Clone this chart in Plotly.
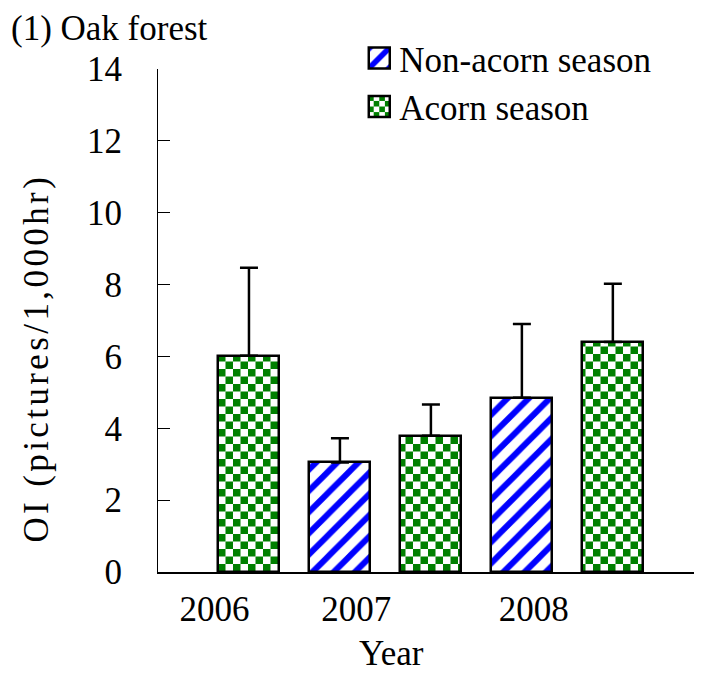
import plotly.graph_objects as go

# ── Data ─────────────────────────────────────────────────────────────────────
YEARS = ["2006", "2007", "2008"]

# slot index of each bar along the x axis (2006 has no non-acorn bar)
NON_ACORN_SLOT = [2, 4]
NON_ACORN_OI = [3.05, 4.85]
NON_ACORN_SE = [0.67, 2.05]

ACORN_SLOT = [1, 3, 5]
ACORN_OI = [6.02, 3.79, 6.40]
ACORN_SE = [2.45, 0.87, 1.62]

# ── Style ────────────────────────────────────────────────────────────────────
BLUE = "#0000FF"
GREEN = "#008000"
BLACK = "#000000"
FONT = "Liberation Serif, Times New Roman, serif"
YEAR_TICKS = [0.62, 2.18, 4.13]

# page body has an 8px margin, so the figure is drawn 8px smaller
W, H = 694, 665

fig = go.Figure()

fig.add_trace(go.Bar(
    x=NON_ACORN_SLOT,
    y=NON_ACORN_OI,
    name="Non-acorn season",
    width=0.67,
    marker=dict(
        color="white",
        line=dict(color=BLACK, width=2.5),
        pattern=dict(shape="/", fgcolor=BLUE, bgcolor="white",
                     fgopacity=1, size=15, solidity=0.4),
    ),
    error_y=dict(type="data", array=NON_ACORN_SE, symmetric=False,
                 arrayminus=[0] * len(NON_ACORN_SE),
                 color=BLACK, thickness=2.5, width=9),
))

fig.add_trace(go.Bar(
    x=ACORN_SLOT,
    y=ACORN_OI,
    name="Acorn season",
    width=0.67,
    marker=dict(
        color="white",
        line=dict(color=BLACK, width=2.5),
        # dot pattern is swapped for a checkerboard tile after render
        pattern=dict(shape=".", fgcolor=GREEN, bgcolor="white",
                     fgopacity=1, size=15, solidity=0.5),
    ),
    error_y=dict(type="data", array=ACORN_SE, symmetric=False,
                 arrayminus=[0] * len(ACORN_SE),
                 color=BLACK, thickness=2.5, width=9),
))

fig.update_layout(
    width=W,
    height=H,
    margin=dict(l=150, r=0, t=61, b=101),
    paper_bgcolor="white",
    plot_bgcolor="white",
    font=dict(family=FONT, size=35, color=BLACK),
    showlegend=True,
    legend=dict(x=0.37, y=1.08, xanchor="left", yanchor="top",
                bgcolor="rgba(0,0,0,0)", font=dict(size=35)),
    bargap=0,
)

fig.update_xaxes(
    range=[0, 5.98],
    tickvals=YEAR_TICKS,
    ticktext=YEARS,
    ticks="",
    showgrid=False,
    zeroline=False,
    showline=True,
    linecolor=BLACK,
    linewidth=2,
    ticklabelstandoff=5,
)
fig.update_yaxes(
    range=[0, 14],
    dtick=2,
    ticks="inside",
    ticklen=12,
    tickwidth=1,
    tickcolor=BLACK,
    showgrid=False,
    zeroline=False,
    showline=True,
    linecolor=BLACK,
    linewidth=1,
    ticklabelstandoff=28,
)

fig.add_annotation(text='<span style="letter-spacing:3.4px">OI (pictures/1,000hr)</span>',
                   textangle=-90,
                   xref="paper", yref="paper", x=-0.224, y=0.4245,
                   xanchor="center", yanchor="middle", showarrow=False,
                   font=dict(size=35))
fig.add_annotation(text="Year", xref="paper", yref="paper",
                   x=(391 - 158) / 544, y=(572 - 653) / 503,
                   xanchor="center", yanchor="middle", showarrow=False,
                   font=dict(size=35))
fig.add_annotation(text="(1) Oak forest", xref="paper", yref="paper",
                   x=(10 - 158) / 544, y=1 + 61 / 503,
                   xanchor="left", yanchor="top", borderpad=0,
                   showarrow=False, font=dict(size=35))

# checkerboard tiles + bigger legend swatches
POST = """
var gd = document.getElementById('{plot_id}');
var ns = 'http://www.w3.org/2000/svg';
gd.querySelectorAll('pattern').forEach(function(p){
  if(!p.querySelector('circle')) return;
  var s = (p.id.indexOf('legend') >= 0) ? 8 : 15, h = s / 2;
  while(p.firstChild) p.removeChild(p.firstChild);
  p.setAttribute('width', s);
  p.setAttribute('height', s);
  [[0, 0, s, s, 'white'], [0, 0, h, h, '%s'], [h, h, h, h, '%s']].forEach(function(r){
    var e = document.createElementNS(ns, 'rect');
    e.setAttribute('x', r[0]); e.setAttribute('y', r[1]);
    e.setAttribute('width', r[2]); e.setAttribute('height', r[3]);
    e.setAttribute('fill', r[4]);
    p.appendChild(e);
  });
});
gd.querySelectorAll('.legend .legendpoints path').forEach(function(p){
  var t = p.getAttribute('transform') || '';
  p.setAttribute('transform', t + ' scale(1.75)');
  p.setAttribute('vector-effect', 'non-scaling-stroke');
});
""" % (GREEN, GREEN)

fig.write_html("out.html", post_script=POST)
